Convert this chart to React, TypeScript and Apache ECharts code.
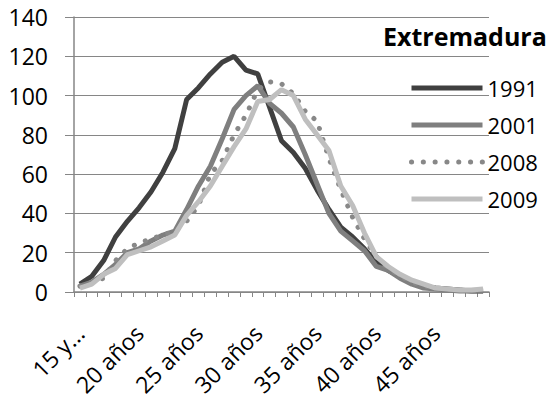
import React, { useEffect, useRef } from "react";
import * as echarts from "echarts";

const categories: string[] = [
  "15 y menos", "16 años", "17 años", "18 años", "19 años",
  "20 años", "21 años", "22 años", "23 años", "24 años",
  "25 años", "26 años", "27 años", "28 años", "29 años",
  "30 años", "31 años", "32 años", "33 años", "34 años",
  "35 años", "36 años", "37 años", "38 años", "39 años",
  "40 años", "41 años", "42 años", "43 años", "44 años",
  "45 años", "46 años", "47 años", "48 años", "49 años",
];

const s1991: number[] = [4, 8, 16, 28, 36, 43, 51, 61, 73, 98, 104, 111, 117, 120, 113, 111, 94, 77, 71, 63, 52, 42, 33, 28, 22, 15, 11, 8, 5, 3, 2, 1.5, 1, 0.5, 0.5];
const s2001: number[] = [3, 5, 9, 14, 20, 22, 26, 29, 31, 42, 54, 64, 78, 93, 100, 105, 96, 91, 84, 70, 55, 40, 31, 26, 21, 13, 11, 7, 4, 2, 1.5, 1, 0.5, 0.5, 0.5];
const s2008: number[] = [3, 5, 7, 16, 22, 25, 27, 29, 31, 36, 44, 60, 67, 80, 90, 103, 107, 106, 101, 92, 87, 68, 52, 38, 27, 18, 12, 8, 5, 3, 2, 1, 1, 0.5, 0.5];
const s2009: number[] = [2, 4, 9, 12, 19, 21, 23, 26, 29, 39, 46, 54, 64, 74, 83, 97, 98, 103, 100, 88, 80, 72, 54, 44, 30, 18, 13, 9, 6, 4, 2, 1.5, 1, 1, 1.5];

const seriesNames = ["1991", "2001", "2008", "2009"];
const titleText = "Extremadura";

const FONT = "'Open Sans', sans-serif";

export default function App() {
  const ref = useRef<HTMLDivElement>(null);
  useEffect(() => {
    if (!ref.current) return;
    const chart = echarts.init(ref.current, null, { renderer: "svg" });
    const axisColor = "#868686";
    const mk = (name: string, data: number[], color: string, dotted = false) => ({
      name,
      type: "line",
      data,
      symbol: "none",
      showSymbol: false,
      smooth: false,
      lineStyle: dotted
        ? { color, width: 5, type: [0.1, 11.7], cap: "round" }
        : { color, width: 5, cap: "butt" },
      itemStyle: { color },
    });
    chart.setOption({
      animation: false,
      backgroundColor: "#ffffff",
      title: {
        text: titleText,
        left: 378,
        top: 18,
        textStyle: { fontFamily: FONT, fontSize: 25, fontWeight: "bold", color: "#000" },
      },
      legend: {
        orient: "vertical",
        left: 404,
        top: 72,
        itemWidth: 71,
        itemHeight: 14,
        itemGap: 15,
        itemStyle: { opacity: 0 },
        lineStyle: { width: 5 },
        textStyle: { fontFamily: FONT, fontSize: 22, color: "#000", lineHeight: 22 },
        data: seriesNames,
      },
      grid: {
        left: 74,
        right: 62,
        top: 17,
        bottom: 108,
        containLabel: false,
        outerBoundsMode: "none",
      },
      xAxis: {
        type: "category",
        data: categories,
        boundaryGap: true,
        axisLine: { show: true, lineStyle: { color: axisColor, width: 1.5 } },
        axisTick: { show: true, interval: 0, length: 5, lineStyle: { color: axisColor, width: 1 } },
        axisLabel: {
          interval: 4,
          rotate: 45,
          margin: 37,
          fontFamily: FONT,
          fontSize: 23,
          color: "#000",
          hideOverlap: false,
          formatter: (v: string) => (v.length > 7 ? v.slice(0, 4) + "..." : v),
        },
        splitLine: { show: false },
      },
      yAxis: {
        type: "value",
        min: 0,
        max: 140,
        interval: 20,
        axisLine: { show: true, lineStyle: { color: axisColor, width: 1.5 } },
        axisTick: { show: true, length: 9, lineStyle: { color: axisColor, width: 1 } },
        axisLabel: { margin: 26, fontFamily: FONT, fontSize: 23, color: "#000" },
        splitLine: { show: true, lineStyle: { color: axisColor, width: 1.2 } },
      },
      series: [
        mk(seriesNames[0], s1991, "#404040"),
        mk(seriesNames[1], s2001, "#7f7f7f"),
        mk(seriesNames[2], s2008, "#888888", true),
        mk(seriesNames[3], s2009, "#bfbfbf"),
      ],
    });
    return () => chart.dispose();
  }, []);
  return (
    <div
      ref={ref}
      style={{ position: "fixed", left: 0, top: 0, width: 551, height: 400, background: "#fff" }}
    />
  );
}
